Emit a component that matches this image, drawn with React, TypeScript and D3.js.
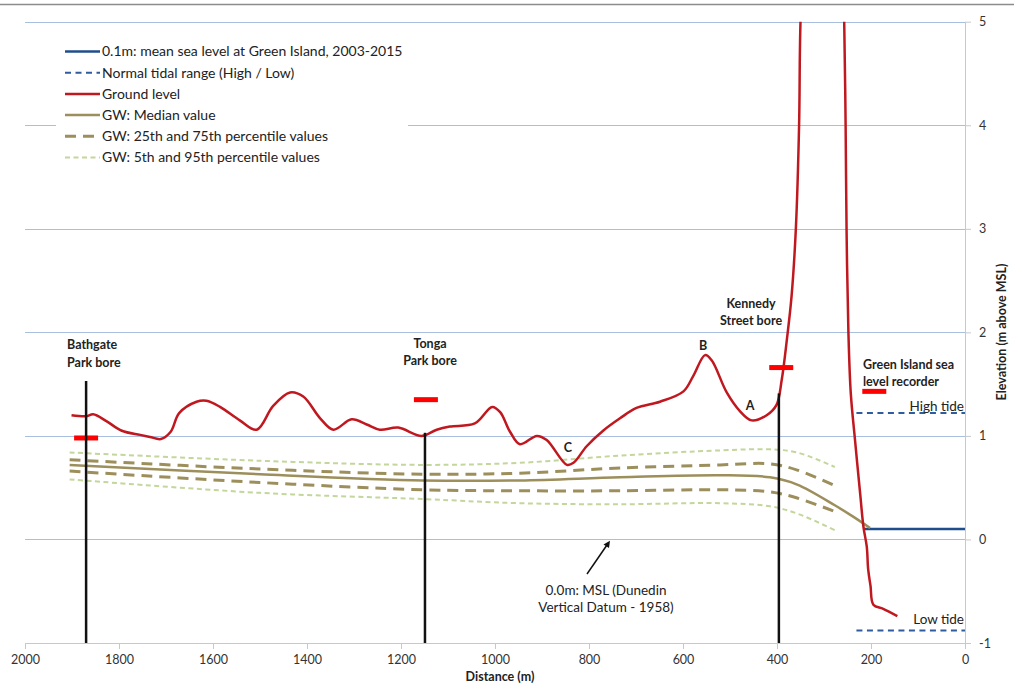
import React from "react";
import * as d3 from "d3";

// ground level profile (distance m, elevation m above MSL)
const groundDist = [1901, 1869, 1855, 1826, 1794, 1755, 1734, 1711, 1690, 1672, 1635, 1614, 1585, 1543, 1507, 1472, 1436, 1408, 1372, 1344, 1305, 1273, 1245, 1206, 1156, 1124, 1096, 1043, 1006, 989, 968, 947, 911, 890, 847, 833, 805, 770, 734, 699, 649, 599, 578, 553, 539, 507, 479, 454, 422, 401, 390, 379, 369, 360, 353, 350, 335, 300, 265, 257, 254, 252, 248, 243, 234, 223, 216, 209, 206, 201, 195, 174, 144];
const groundElev = [1.20, 1.19, 1.21, 1.14, 1.05, 1.01, 0.99, 0.97, 1.04, 1.22, 1.33, 1.34, 1.28, 1.15, 1.06, 1.29, 1.42, 1.38, 1.17, 1.06, 1.16, 1.11, 1.06, 1.08, 1.00, 1.06, 1.09, 1.12, 1.28, 1.23, 1.04, 0.92, 1.00, 0.96, 0.72, 0.74, 0.90, 1.05, 1.17, 1.27, 1.33, 1.43, 1.58, 1.78, 1.73, 1.42, 1.24, 1.15, 1.20, 1.30, 1.54, 1.93, 2.35, 2.99, 4.00, 5.00, 6.5, 7.5, 6.5, 5.00, 4.00, 2.99, 1.99, 1.41, 0.96, 0.44, 0.12, -0.07, -0.29, -0.45, -0.63, -0.67, -0.74];

// groundwater levels
const medianDist = [1905, 1500, 1153, 947, 734, 521, 415, 357, 277, 238, 202];
const medianElev = [0.72, 0.63, 0.57, 0.57, 0.60, 0.62, 0.60, 0.53, 0.33, 0.22, 0.11];
const pctDist = [1905, 1500, 1153, 947, 734, 521, 415, 357, 277];
const p95 = [0.84, 0.76, 0.72, 0.74, 0.81, 0.86, 0.87, 0.84, 0.70];
const p75 = [0.77, 0.68, 0.63, 0.64, 0.69, 0.72, 0.73, 0.67, 0.52];
const p25 = [0.66, 0.55, 0.48, 0.47, 0.47, 0.48, 0.46, 0.40, 0.27];
const p5 = [0.58, 0.45, 0.39, 0.35, 0.34, 0.35, 0.32, 0.25, 0.09];

// sea levels
const seaLevel = { from: 215, to: 0, elev: 0.1 };
const highTide = { from: 231, to: 0, elev: 1.22 };
const lowTide = { from: 231, to: 0, elev: -0.88 };

// bores: name lines, distance, top of casing
const bores = [
  { dist: 1870, top: 1.53 },
  { dist: 1149, top: 1.03 },
  { dist: 396, top: 1.41 },
];
// red markers
const markerDist = [1870, 1147, 391, 193];
const markerElev = [0.98, 1.35, 1.66, 1.43];

const xTicks = [2000, 1800, 1600, 1400, 1200, 1000, 800, 600, 400, 200, 0];
const yTicks = [5, 4, 3, 2, 1, 0, -1];

const legendItems = [
  { label: "0.1m: mean sea level at Green Island, 2003-2015", color: "#1F4E8C", dash: null, w: 2.5 },
  { label: "Normal tidal range (High / Low)", color: "#2E5C9E", dash: "6,4.5", w: 2 },
  { label: "Ground level", color: "#C0181F", dash: null, w: 2.5 },
  { label: "GW: Median value", color: "#9C8F5C", dash: null, w: 2.5 },
  { label: "GW: 25th and 75th percentile values", color: "#9C8F5C", dash: "11,7", w: 3 },
  { label: "GW: 5th and 95th percentile values", color: "#C3D69B", dash: "5,3.5", w: 2 },
];

const FONT = "Lato, 'Open Sans', sans-serif";

const App = () => {
  const svgRef = React.useRef(null);
  const width = 1014;
  const height = 687;

  React.useEffect(() => {
    const x = d3.scaleLinear().domain([2000, 0]).range([25, 965]);
    const y = d3.scaleLinear().domain([-1, 5]).range([643, 21.7]);

    const svgEl = d3.select(svgRef.current);
    svgEl.selectAll("*").remove();

    svgEl.append("defs").append("clipPath").attr("id", "plot")
      .append("rect").attr("x", 25).attr("y", y(5)).attr("width", 940).attr("height", y(-1) - y(5));

    // top border
    svgEl.append("line").attr("x1", 0).attr("x2", width).attr("y1", 4.5).attr("y2", 4.5)
      .attr("stroke", "#8c8c8c").attr("stroke-width", 1.5);

    // horizontal grid
    svgEl.append("g").selectAll("line").data(yTicks.filter((t) => t > -1)).enter().append("line")
      .attr("x1", x(2000)).attr("x2", x(0))
      .attr("y1", (d) => Math.round(y(d)) + 0.5).attr("y2", (d) => Math.round(y(d)) + 0.5)
      .attr("stroke", "#A9BFE0").attr("stroke-width", 1);

    // bottom axis
    const xAxis = svgEl.append("g").attr("transform", `translate(0,${y(-1)})`)
      .call(d3.axisBottom(x).tickValues(xTicks).tickFormat((d) => String(d)).tickSize(6).tickSizeOuter(0).tickPadding(6));
    xAxis.select(".domain").attr("stroke", "#c8c8c8");
    xAxis.selectAll("line").attr("stroke", "#c8c8c8");
    xAxis.selectAll("text").attr("font-family", FONT).attr("font-size", 12.5).attr("fill", "#333");

    // right axis
    const yAxis = svgEl.append("g").attr("transform", `translate(${x(0)},0)`)
      .call(d3.axisRight(y).tickValues(yTicks).tickFormat((d) => String(d)).tickSize(6).tickSizeOuter(0).tickPadding(8));
    yAxis.select(".domain").attr("stroke", "#c8c8c8");
    yAxis.selectAll("line").attr("stroke", "#c8c8c8");
    yAxis.selectAll("text").attr("font-family", FONT).attr("font-size", 12.5).attr("fill", "#333");

    // axis titles
    svgEl.append("text").attr("x", 500).attr("y", 681).attr("text-anchor", "middle")
      .attr("font-family", FONT).attr("font-size", 12.5).attr("font-weight", "bold").attr("fill", "#222")
      .text("Distance (m)");
    svgEl.append("text").attr("transform", "translate(1006,332) rotate(-90)").attr("text-anchor", "middle")
      .attr("font-family", FONT).attr("font-size", 12.5).attr("font-weight", "bold").attr("fill", "#222")
      .text("Elevation (m above MSL)");

    const plot = svgEl.append("g").attr("clip-path", "url(#plot)");
    const curve = d3.curveCatmullRom.alpha(0.5);
    const line = d3.line().x((d) => x(d[0])).y((d) => y(d[1])).curve(curve);

    // legend box
    svgEl.append("rect").attr("x", 56).attr("y", 36).attr("width", 352).attr("height", 134).attr("fill", "white");

    // sea levels
    plot.append("line").attr("x1", x(highTide.from)).attr("x2", x(highTide.to))
      .attr("y1", y(highTide.elev)).attr("y2", y(highTide.elev))
      .attr("stroke", "#2E5C9E").attr("stroke-width", 2).attr("stroke-dasharray", "6,4.5");
    plot.append("line").attr("x1", x(lowTide.from)).attr("x2", x(lowTide.to))
      .attr("y1", y(lowTide.elev)).attr("y2", y(lowTide.elev))
      .attr("stroke", "#2E5C9E").attr("stroke-width", 2).attr("stroke-dasharray", "6,4.5");
    plot.append("line").attr("x1", x(seaLevel.from)).attr("x2", x(seaLevel.to))
      .attr("y1", y(seaLevel.elev)).attr("y2", y(seaLevel.elev))
      .attr("stroke", "#1F4E8C").attr("stroke-width", 2.5);

    // bores
    bores.forEach((b) => {
      svgEl.append("line").attr("x1", x(b.dist)).attr("x2", x(b.dist))
        .attr("y1", y(b.top)).attr("y2", y(-1)).attr("stroke", "#111").attr("stroke-width", 2.5);
    });

    // groundwater
    const zip = (ds, vs) => ds.map((d, i) => [d, vs[i]]);
    plot.append("path").attr("d", line(zip(pctDist, p5))).attr("fill", "none")
      .attr("stroke", "#C3D69B").attr("stroke-width", 2).attr("stroke-dasharray", "5,3.5");
    plot.append("path").attr("d", line(zip(pctDist, p95))).attr("fill", "none")
      .attr("stroke", "#C3D69B").attr("stroke-width", 2).attr("stroke-dasharray", "5,3.5");
    plot.append("path").attr("d", line(zip(pctDist, p25))).attr("fill", "none")
      .attr("stroke", "#9C8F5C").attr("stroke-width", 3).attr("stroke-dasharray", "11,7");
    plot.append("path").attr("d", line(zip(pctDist, p75))).attr("fill", "none")
      .attr("stroke", "#9C8F5C").attr("stroke-width", 3).attr("stroke-dasharray", "11,7");
    plot.append("path").attr("d", line(zip(medianDist, medianElev))).attr("fill", "none")
      .attr("stroke", "#9C8F5C").attr("stroke-width", 2.5);

    // ground level
    plot.append("path").attr("d", line(zip(groundDist, groundElev))).attr("fill", "none")
      .attr("stroke", "#C0181F").attr("stroke-width", 2.5).attr("stroke-linejoin", "round");

    // red markers
    plot.selectAll(".marker").data(zip(markerDist, markerElev)).enter().append("line")
      .attr("x1", (d) => x(d[0]) - 12).attr("x2", (d) => x(d[0]) + 12)
      .attr("y1", (d) => y(d[1])).attr("y2", (d) => y(d[1]))
      .attr("stroke", "#FF0000").attr("stroke-width", 5);

    // legend
    legendItems.forEach((it, i) => {
      const ly = 51.5 + i * 21.2;
      svgEl.append("line").attr("x1", 65).attr("x2", 100).attr("y1", ly).attr("y2", ly)
        .attr("stroke", it.color).attr("stroke-width", it.w)
        .attr("stroke-dasharray", it.dash);
      svgEl.append("text").attr("x", 102).attr("y", ly).attr("dy", "0.35em")
        .attr("font-family", FONT).attr("font-size", 14).attr("fill", "#222").text(it.label);
    });

    // annotations
    const label = (tx, ty, txt, anchor, bold) =>
      svgEl.append("text").attr("x", tx).attr("y", ty).attr("dy", "0.35em").attr("text-anchor", anchor)
        .attr("font-family", FONT).attr("font-size", bold ? 12.5 : 13.5).attr("font-weight", bold ? "bold" : "normal")
        .attr("fill", "#222").text(txt);

    label(67, 345, "Bathgate", "start", true);
    label(67, 362.5, "Park bore", "start", true);
    label(430, 343.5, "Tonga", "middle", true);
    label(430, 361, "Park bore", "middle", true);
    label(751, 304, "Kennedy", "middle", true);
    label(751, 321, "Street bore", "middle", true);
    label(863, 365, "Green Island sea", "start", true);
    label(863, 382, "level recorder", "start", true);
    label(703, 346, "B", "middle", true);
    label(750, 406, "A", "middle", true);
    label(568, 448, "C", "middle", true);
    label(964, 406, "High tide", "end", false);
    label(964, 619.5, "Low tide", "end", false);
    label(606, 590, "0.0m: MSL (Dunedin", "middle", false);
    label(606, 607, "Vertical Datum - 1958)", "middle", false);

    // arrow to MSL
    svgEl.append("line").attr("x1", 587).attr("y1", 574).attr("x2", 608).attr("y2", 543.5)
      .attr("stroke", "#111").attr("stroke-width", 1.5);
    svgEl.append("path").attr("d", "M610,540.7 L603.5,544.5 L609,548 Z").attr("fill", "#111");
  }, []);

  return (
    <svg ref={svgRef} width={width} height={height}
      style={{ position: "absolute", left: 0, top: 0, background: "white" }} />
  );
};

export default App;
